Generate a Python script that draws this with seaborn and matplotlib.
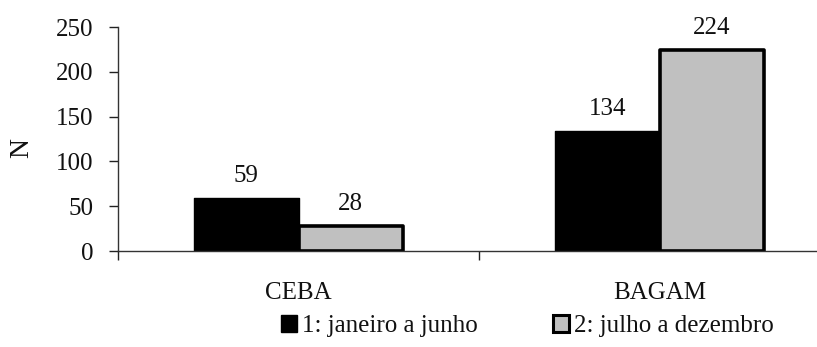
import matplotlib
matplotlib.use("Agg")
import matplotlib.pyplot as plt
import seaborn as sns
import pandas as pd
from matplotlib.patches import Patch

# Data
locais = ["CEBA", "BAGAM"]
periodos = ["1: janeiro a junho", "2: julho a dezembro"]
jan_jun = [59, 134]
jul_dez = [28, 224]
y_ticks = [0, 50, 100, 150, 200, 250]

df = pd.DataFrame({
    "local": locais * 2,
    "periodo": [periodos[0]] * 2 + [periodos[1]] * 2,
    "N": jan_jun + jul_dez,
})

sns.set_theme(style="white")
plt.rcParams["font.family"] = ["Liberation Serif", "DejaVu Serif"]

FS = 18
W, H = 817, 347
fig = plt.figure(figsize=(W / 100, H / 100), dpi=100)
x0, x1 = 118, 840
y0, y1 = 251, 27
ax = fig.add_axes([x0 / W, (H - y0) / H, (x1 - x0) / W, (y0 - y1) / H])

colors = ["black", "#C0C0C0"]
sns.barplot(data=df, x="local", y="N", hue="periodo", order=locais,
            hue_order=periodos, palette=colors, width=0.58, gap=0,
            saturation=1, legend=False, ax=ax)

# Outline the bars
for cont, lw in zip(ax.containers, [1.0, 2.6]):
    for bar in cont:
        bar.set_edgecolor("black")
        bar.set_linewidth(lw)
        bar.set_joinstyle("round")

for cont in ax.containers:
    ax.bar_label(cont, fmt="%d", padding=8, fontsize=FS, color="#111111")

ax.set_xlim(-0.5, 1.5)
ax.set_ylim(0, 250)
ax.set_yticks(y_ticks)
ax.set_xticks([0, 1])
ax.set_xticks([-0.5, 0.5, 1.5], minor=True)
ax.tick_params(axis="x", which="major", length=0, pad=22, labelsize=FS)
ax.tick_params(axis="x", which="minor", length=6.5, width=1, direction="out",
               color="#222222", bottom=True)
ax.tick_params(axis="y", length=6.5, width=1, direction="out",
               color="#222222", pad=11, labelsize=FS, left=True)
for t in ax.get_xticklabels() + ax.get_yticklabels():
    t.set_color("#111111")

ax.set_xlabel("")
ax.set_ylabel("")
fig.text(22 / W, (H - 148) / H, "N", rotation=90, ha="center", va="center",
         fontsize=20, color="#111111")

for s in ["top", "right"]:
    ax.spines[s].set_visible(False)
for s in ["left", "bottom"]:
    ax.spines[s].set_color("#333333")
    ax.spines[s].set_linewidth(1.0)
ax.spines["left"].set_bounds(0, 250)
ax.grid(False)

handles = [Patch(facecolor=colors[0], edgecolor="black", linewidth=1.0),
           Patch(facecolor=colors[1], edgecolor="black", linewidth=2.2)]
fig.legend(handles, periodos, loc="center", bbox_to_anchor=(527 / W, (H - 326) / H),
           ncol=2, frameon=False, fontsize=FS, handlelength=0.65, handleheight=0.65,
           handletextpad=0.2, columnspacing=3.0, labelcolor="#111111")

fig.savefig("out.png", dpi=100, facecolor="white")
